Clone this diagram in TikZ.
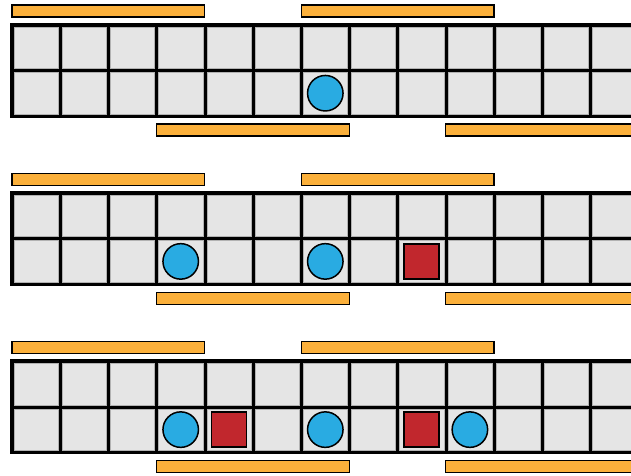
\documentclass[tikz,border=0pt]{standalone}
\definecolor{cellgray}{HTML}{E5E5E5}
\definecolor{ballblue}{HTML}{29ABE2}
\definecolor{blockred}{HTML}{C1272D}
\definecolor{barorange}{HTML}{FBB03B}
\begin{document}
\begin{tikzpicture}[x=1pt,y=-1pt,
  bar/.style={fill=barorange,draw=black,line width=1.2pt},
  cell/.style={fill=cellgray,draw=gray!60,line width=0.6pt},
  gridbg/.style={fill=black},
  ball/.style={circle,fill=ballblue,draw=black,line width=1.5pt,minimum size=35.5pt,inner sep=0pt},
  block/.style={rectangle,fill=blockred,draw=black,line width=1.5pt,minimum size=35pt,inner sep=0pt}]
\useasboundingbox (0,0) rectangle (631,475);
\foreach \p in {0,1,2}{
  \pgfmathsetmacro\o{168.2*\p}
  % grid
  \fill[gridbg] (10,22.8+\o) rectangle (660,118+\o);
  \foreach \k in {0,...,13}{
    \foreach \r in {0,1}{
      \draw[cell] (14+48.2*\k, 26.8+45.6*\r+\o) rectangle (58.2+48.2*\k, 68.4+45.6*\r+\o);
    }
  }
  % bars
  \draw[bar] (12,5+\o) rectangle (204.8,17+\o);
  \draw[bar] (301.2,5+\o) rectangle (494,17+\o);
  \draw[bar] (156.6,124+\o) rectangle (349.4,136+\o);
  \draw[bar] (445.8,124+\o) rectangle (660,136+\o);
}
% panel 1
\node[ball] (b11) at (36.1+48.2*6, 93.2) {};
% panel 2
\node[ball] (b21) at (36.1+48.2*3, 93.2+168.2) {};
\node[ball] (b22) at (36.1+48.2*6, 93.2+168.2) {};
\node[block] (r21) at (36.1+48.2*8, 93.2+168.2) {};
% panel 3
\node[ball] (b31) at (36.1+48.2*3, 93.2+336.4) {};
\node[block] (r31) at (36.1+48.2*4, 93.2+336.4) {};
\node[ball] (b32) at (36.1+48.2*6, 93.2+336.4) {};
\node[block] (r32) at (36.1+48.2*8, 93.2+336.4) {};
\node[ball] (b33) at (36.1+48.2*9, 93.2+336.4) {};
\end{tikzpicture}
\end{document}
